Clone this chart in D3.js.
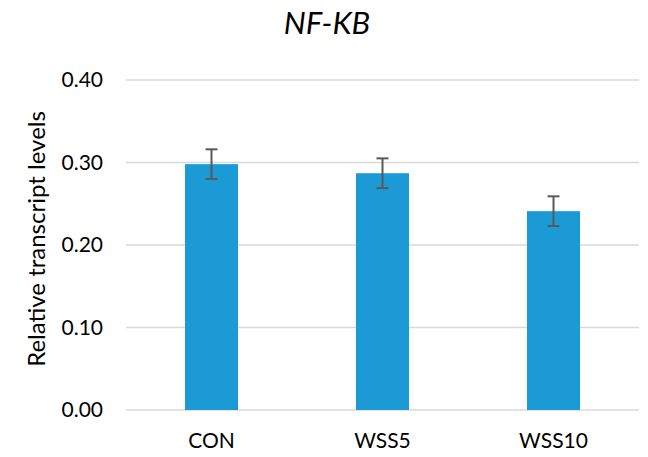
<!DOCTYPE html>
<html><head><meta charset="utf-8">
<script src="https://cdn.jsdelivr.net/npm/d3@7"></script>
<style>body{margin:0;background:#fff}</style>
</head><body>
<svg id="c" width="648" height="457"></svg>
<script>
const categories = ["CON", "WSS5", "WSS10"];
const values = [0.298, 0.287, 0.241];
const errors = [0.018, 0.018, 0.018];
const yTicks = [0, 0.1, 0.2, 0.3, 0.4];
const title = "NF-KB";
const yLabel = "Relative transcript levels";

const svg = d3.select("#c");
const font = "Lato, 'Open Sans', sans-serif";
const m = {left: 126, right: 9, top: 80, bottom: 47};
const W = 648, H = 457;
const x = d3.scaleBand().domain(categories).range([m.left, W - m.right]).padding(0);
const y = d3.scaleLinear().domain([0, 0.4]).range([H - m.bottom, m.top]);
const barW = x.bandwidth() * 0.31;

// gridlines
svg.append("g").selectAll("line").data(yTicks).join("line")
  .attr("x1", m.left).attr("x2", W - m.right)
  .attr("y1", d => y(d)).attr("y2", d => y(d))
  .attr("stroke", "#d9d9d9").attr("stroke-width", 1.3);

// y tick labels
svg.append("g").selectAll("text").data(yTicks).join("text")
  .attr("x", 103).attr("y", d => y(d)).attr("dy", "0.35em")
  .attr("text-anchor", "end").attr("font-family", font).attr("font-size", 21)
  .attr("fill", "#000").text(d => d3.format(".2f")(d));

// bars
svg.append("g").selectAll("rect").data(values).join("rect")
  .attr("x", (d, i) => x(categories[i]) + x.bandwidth() / 2 - barW / 2)
  .attr("width", barW)
  .attr("y", d => y(d)).attr("height", d => y(0) - y(d))
  .attr("fill", "#1c9ad6");

// error bars
const eg = svg.append("g").attr("stroke", "#595959").attr("stroke-width", 2);
values.forEach((v, i) => {
  const cx = x(categories[i]) + x.bandwidth() / 2;
  eg.append("line").attr("x1", cx).attr("x2", cx).attr("y1", y(v + errors[i])).attr("y2", y(v - errors[i]));
  eg.append("line").attr("x1", cx - 6).attr("x2", cx + 6).attr("y1", y(v + errors[i])).attr("y2", y(v + errors[i]));
  eg.append("line").attr("x1", cx - 6).attr("x2", cx + 6).attr("y1", y(v - errors[i])).attr("y2", y(v - errors[i]));
});

// x labels
svg.append("g").selectAll("text").data(categories).join("text")
  .attr("x", d => x(d) + x.bandwidth() / 2).attr("y", 448)
  .attr("text-anchor", "middle").attr("font-family", font).attr("font-size", 21)
  .attr("fill", "#000").text(d => d);

// title
svg.append("text").attr("x", 327).attr("y", 34).attr("text-anchor", "middle")
  .attr("font-family", font).attr("font-size", 31).attr("font-style", "italic")
  .attr("fill", "#000").text(title);

// y label
svg.append("text").attr("transform", "translate(45,239) rotate(-90)")
  .attr("text-anchor", "middle").attr("font-family", font).attr("font-size", 24)
  .attr("fill", "#000").text(yLabel);
</script>
</body></html>
